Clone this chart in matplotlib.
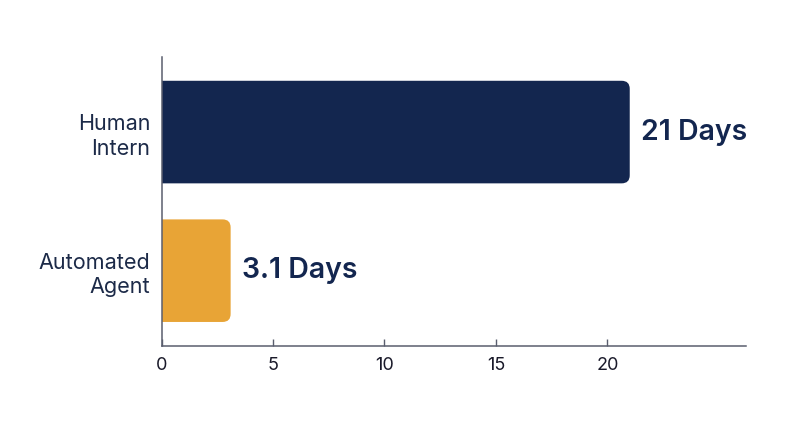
import matplotlib.pyplot as plt
from matplotlib.patches import FancyBboxPatch

plt.rcParams['font.family'] = ['Inter', 'DejaVu Sans']

categories = ["Automated\nAgent", "Human\nIntern"]
days = [3.1, 21]
value_labels = ["3.1 Days", "21 Days"]
colors = ["#e8a436", "#13264f"]

navy = "#13264f"
axis_gray = "#5a5e6e"

fig = plt.figure(figsize=(8, 4.47), dpi=100)
ax = fig.add_axes([0.2019, 0.227, 0.7302, 0.645])

ax.set_xlim(0, 26.2)
ax.set_ylim(-0.54, 1.54)

bar_h = 0.74
rx = 0.36  # corner radius in x units
aspect = 0.058 / rx
for i, (v, c) in enumerate(zip(days, colors)):
    # start left of the axis so the left corners get clipped away
    p = FancyBboxPatch((-1, i - bar_h / 2), v + 1, bar_h,
                       boxstyle=f"round,pad=0,rounding_size={rx}",
                       mutation_aspect=aspect, facecolor=c, edgecolor="none",
                       clip_on=True)
    ax.add_patch(p)
    ax.annotate(value_labels[i], xy=(v, i), xytext=(8, 0), textcoords="offset points",
                ha="left", va="center", fontsize=20.5, fontweight="semibold", color=navy)

ax.set_yticks(range(len(categories)))
ax.set_yticklabels(categories, fontsize=15.5, color="#1c2a48", linespacing=1.3)
ax.tick_params(axis="y", left=False, length=0, pad=8)

ax.set_xticks([0, 5, 10, 15, 20])
ax.tick_params(axis="x", direction="in", length=5, width=1, color=axis_gray,
               labelsize=13, labelcolor="#1a1a2a", pad=8)

for s in ["top", "right"]:
    ax.spines[s].set_visible(False)
for s in ["left", "bottom"]:
    ax.spines[s].set_color(axis_gray)
    ax.spines[s].set_linewidth(1.1)

fig.savefig("out.png", dpi=100, facecolor="white")
